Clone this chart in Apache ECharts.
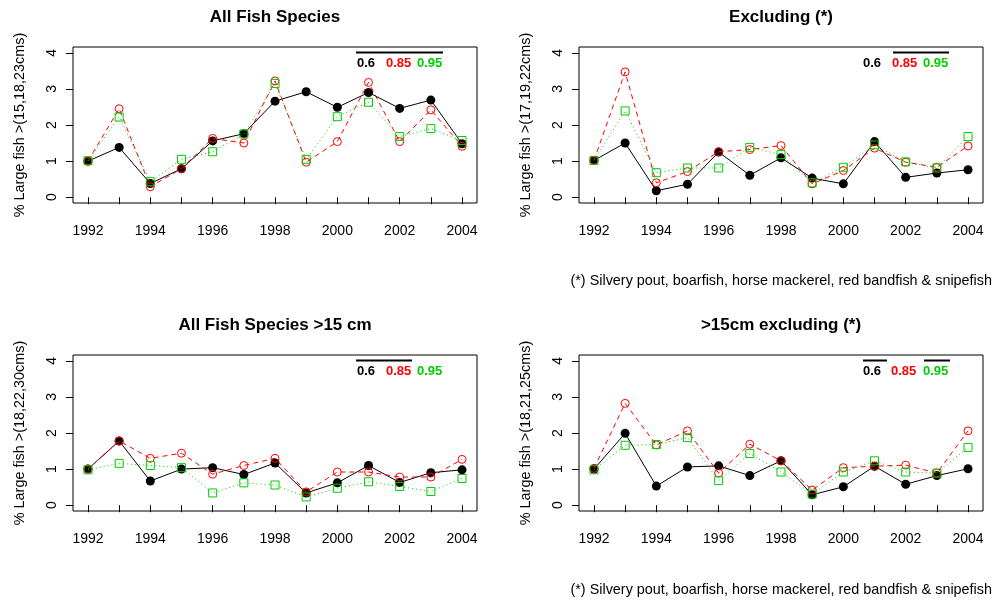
<!DOCTYPE html>
<html>
<head>
<meta charset="utf-8">
<script src="https://cdn.jsdelivr.net/npm/echarts@6/dist/echarts.min.js"></script>
<style>
html,body{margin:0;padding:0;background:#fff;}
#chart{width:997px;height:604px;}
</style>
</head>
<body>
<div id="chart"></div>
<script>
// Survey years and axis ticks
const years = [1992,1993,1994,1995,1996,1997,1998,1999,2000,2001,2002,2003,2004];
const labelYears = [1992,1994,1996,1998,2000,2002,2004];
const yTicks = [0,1,2,3,4];
const quantiles = ['0.6','0.85','0.95'];

// Panel titles and y-axis names
const panelTitles = ['All Fish Species','Excluding (*)','All Fish Species >15 cm','>15cm excluding (*)'];
const yNames = ['% Large fish >(15,18,23cms)','% Large fish >(17,19,22cms)','% Large fish >(18,22,30cms)','% Large fish >(18,21,25cms)'];
const footnote = '(*) Silvery pout, boarfish, horse mackerel, red bandfish & snipefish';

// All fish species
const all_q60 = [1.00,1.38,0.38,0.79,1.56,1.76,2.66,2.92,2.49,2.90,2.46,2.69,1.48];
const all_q85 = [1.00,2.45,0.29,0.79,1.63,1.50,3.22,0.97,1.54,3.18,1.54,2.42,1.41];
const all_q95 = [1.01,2.22,0.43,1.05,1.26,1.75,3.15,1.05,2.23,2.63,1.68,1.90,1.57];

// Excluding (*)
const exc_q60 = [1.02,1.50,0.18,0.36,1.25,0.61,1.09,0.53,0.37,1.54,0.55,0.67,0.76];
const exc_q85 = [1.02,3.47,0.40,0.71,1.26,1.32,1.43,0.37,0.74,1.36,0.97,0.83,1.42];
const exc_q95 = [1.02,2.39,0.68,0.81,0.81,1.38,1.18,0.40,0.83,1.45,0.98,0.81,1.68];

// All fish species >15 cm
const big_q60 = [1.00,1.78,0.67,1.00,1.04,0.85,1.17,0.34,0.62,1.10,0.63,0.90,0.98];
const big_q85 = [1.00,1.78,1.30,1.44,0.86,1.10,1.30,0.37,0.92,0.92,0.78,0.78,1.27];
const big_q95 = [0.98,1.16,1.10,1.04,0.34,0.62,0.56,0.23,0.47,0.65,0.52,0.38,0.74];

// >15cm excluding (*)
const bigExc_q60 = [1.00,1.99,0.53,1.06,1.09,0.82,1.23,0.29,0.51,1.08,0.58,0.82,1.01];
const bigExc_q85 = [1.02,2.82,1.67,2.06,0.89,1.69,1.23,0.42,1.04,1.08,1.11,0.89,2.06];
const bigExc_q95 = [0.98,1.66,1.68,1.87,0.68,1.43,0.92,0.31,0.92,1.23,0.92,0.89,1.60];

const panels = [
  [all_q60, all_q85, all_q95],
  [exc_q60, exc_q85, exc_q95],
  [big_q60, big_q85, big_q95],
  [bigExc_q60, bigExc_q85, bigExc_q95]
];

const FONT = '"Liberation Sans", Arial, Helvetica, sans-serif';
const RED = '#ff0000';
const GREEN = '#00cc00';
const colors = ['#000000', RED, GREEN];

// plot-region boxes: [left, top]
const boxes = [[73,47],[579,47],[73,355],[579,355]];
const BOX_W = 404, BOX_H = 156;

const grids = [], xAxes = [], yAxes = [], series = [];
boxes.forEach((b, i) => {
  grids.push({left:b[0], top:b[1], width:BOX_W, height:BOX_H, show:true,
    borderColor:'#000', borderWidth:1, backgroundColor:'transparent', containLabel:false});
  xAxes.push({
    type:'value', gridIndex:i, min:1991.52, max:2004.48,
    axisLine:{show:false}, splitLine:{show:false},
    axisTick:{show:true, inside:false, length:7, customValues:years, lineStyle:{color:'#000', width:1}},
    axisLabel:{show:true, customValues:labelYears, margin:21, fontSize:14, color:'#000', fontFamily:FONT,
      formatter: v => String(v)}
  });
  yAxes.push({
    type:'value', gridIndex:i, min:-0.16, max:4.16,
    axisLine:{show:false}, splitLine:{show:false},
    axisTick:{show:true, inside:false, length:7, customValues:yTicks, lineStyle:{color:'#000', width:1}},
    axisLabel:{show:true, customValues:yTicks, rotate:90, margin:14, fontSize:14, color:'#000', fontFamily:FONT},
    name:yNames[i], nameLocation:'middle', nameRotate:90, nameGap:46,
    nameTextStyle:{fontSize:14.4, color:'#000', fontFamily:FONT}
  });
  const [s60, s85, s95] = panels[i];
  series.push({
    type:'line', xAxisIndex:i, yAxisIndex:i, z:2,
    data: years.map((y,k)=>[y, s60[k]]),
    symbol:'circle', symbolSize:9, showSymbol:true,
    lineStyle:{color:'#000', width:1, type:'solid'},
    itemStyle:{color:'#000', borderWidth:0},
    emphasis:{disabled:true}, animation:false
  });
  series.push({
    type:'line', xAxisIndex:i, yAxisIndex:i, z:3,
    data: years.map((y,k)=>[y, s85[k]]),
    symbol:'circle', symbolSize:8, showSymbol:true,
    lineStyle:{color:RED, width:1, type:[5,4]},
    itemStyle:{color:'rgba(0,0,0,0)', borderColor:RED, borderWidth:1},
    emphasis:{disabled:true}, animation:false
  });
  series.push({
    type:'line', xAxisIndex:i, yAxisIndex:i, z:4,
    data: years.map((y,k)=>[y, s95[k]]),
    symbol:'rect', symbolSize:8, showSymbol:true,
    lineStyle:{color:GREEN, width:1, type:[1,3]},
    itemStyle:{color:'rgba(0,0,0,0)', borderColor:GREEN, borderWidth:1},
    emphasis:{disabled:true}, animation:false
  });
});

// titles, quantile keys with significance bars, footnotes
const graphic = [];
const titlePos = [[275,17],[781,17],[275,325],[781,325]];
panelTitles.forEach((t,i)=>{
  graphic.push({type:'text', silent:true,
    style:{text:t, x:titlePos[i][0], y:titlePos[i][1], align:'center', verticalAlign:'middle',
      font:'bold 17px ' + FONT, fill:'#000'}});
});
function key(xs, y){
  quantiles.forEach((q,k)=>{
    graphic.push({type:'text', silent:true,
      style:{text:q, x:xs[k], y:y, align:'left', verticalAlign:'middle', font:'bold 13px ' + FONT, fill:colors[k]}});
  });
}
function bar(x1, x2, y){
  graphic.push({type:'line', silent:true, shape:{x1:x1, y1:y, x2:x2, y2:y}, style:{stroke:'#000', lineWidth:2}});
}
key([357,386,417], 63);   bar(356,443,52.5);
key([863,892,923], 63);   bar(893,949,52.5);
key([357,386,417], 371);  bar(356,412,360.5);
key([863,891,923], 371.5); bar(863,887,360.5); bar(924,950,360.5);

[281, 590].forEach(y=>{
  graphic.push({type:'text', silent:true,
    style:{text:footnote, x:992, y:y, align:'right', verticalAlign:'middle', font:'14.4px ' + FONT, fill:'#000'}});
});

const chart = echarts.init(document.getElementById('chart'), null, {renderer:'canvas'});
chart.setOption({
  animation:false,
  backgroundColor:'#fff',
  grid:grids, xAxis:xAxes, yAxis:yAxes, series:series,
  graphic:graphic
});
</script>
</body>
</html>
